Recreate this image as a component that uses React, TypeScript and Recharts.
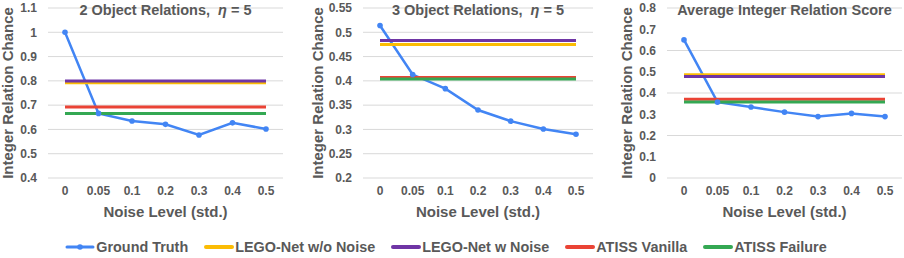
import { CartesianGrid, Line, LineChart, XAxis, YAxis } from 'recharts'

const FONT = "'Liberation Sans', Arial, sans-serif"
const TEXT_COLOR = '#595959'
const GRID_COLOR = '#d9d9d9'

const GT_COLOR = '#4285f4'
const NO_NOISE_COLOR = '#fbbc04'
const W_NOISE_COLOR = '#6f35a5'
const VANILLA_COLOR = '#ea4335'
const FAILURE_COLOR = '#34a853'

const noiseLevels = ['0', '0.05', '0.1', '0.2', '0.3', '0.4', '0.5']

// 2 object relations
const gt2 = [1.0, 0.666, 0.635, 0.621, 0.577, 0.627, 0.602]
const noNoise2 = [0.792, 0.792, 0.792, 0.792, 0.792, 0.792, 0.792]
const wNoise2 = [0.799, 0.799, 0.799, 0.799, 0.799, 0.799, 0.799]
const vanilla2 = [0.692, 0.692, 0.692, 0.692, 0.692, 0.692, 0.692]
const failure2 = [0.666, 0.666, 0.666, 0.666, 0.666, 0.666, 0.666]
const ticks2 = [0.4, 0.5, 0.6, 0.7, 0.8, 0.9, 1, 1.1]

// 3 object relations
const gt3 = [0.514, 0.413, 0.384, 0.34, 0.317, 0.301, 0.29]
const noNoise3 = [0.475, 0.475, 0.475, 0.475, 0.475, 0.475, 0.475]
const wNoise3 = [0.483, 0.483, 0.483, 0.483, 0.483, 0.483, 0.483]
const vanilla3 = [0.407, 0.407, 0.407, 0.407, 0.407, 0.407, 0.407]
const failure3 = [0.404, 0.404, 0.404, 0.404, 0.404, 0.404, 0.404]
const ticks3 = [0.2, 0.25, 0.3, 0.35, 0.4, 0.45, 0.5, 0.55]

// average
const gtAvg = [0.65, 0.357, 0.334, 0.31, 0.289, 0.304, 0.289]
const noNoiseAvg = [0.486, 0.486, 0.486, 0.486, 0.486, 0.486, 0.486]
const wNoiseAvg = [0.478, 0.478, 0.478, 0.478, 0.478, 0.478, 0.478]
const vanillaAvg = [0.371, 0.371, 0.371, 0.371, 0.371, 0.371, 0.371]
const failureAvg = [0.358, 0.358, 0.358, 0.358, 0.358, 0.358, 0.358]
const ticksAvg = [0, 0.1, 0.2, 0.3, 0.4, 0.5, 0.6, 0.7, 0.8]

const legendItems = [
  { name: 'Ground Truth', color: GT_COLOR, dot: true },
  { name: 'LEGO-Net w/o Noise', color: NO_NOISE_COLOR, dot: false },
  { name: 'LEGO-Net w Noise', color: W_NOISE_COLOR, dot: false },
  { name: 'ATISS Vanilla', color: VANILLA_COLOR, dot: false },
  { name: 'ATISS Failure', color: FAILURE_COLOR, dot: false },
]

const TICK_STYLE = { fill: TEXT_COLOR, fontSize: 12, fontWeight: 700, fontFamily: FONT }
const TITLE_STYLE = { fill: TEXT_COLOR, fontSize: 15, fontWeight: 700, fontFamily: FONT }

function buildRows(gt: number[], noNoise: number[], wNoise: number[], vanilla: number[], failure: number[]) {
  return noiseLevels.map((noise, i) => ({
    noise,
    gt: gt[i],
    noNoise: noNoise[i],
    wNoise: wNoise[i],
    vanilla: vanilla[i],
    failure: failure[i],
  }))
}

interface PanelProps {
  left: number
  width: number
  axisWidth: number
  rightMargin: number
  yTitleX: number
  ticks: number[]
  title: React.ReactNode
  rows: ReturnType<typeof buildRows>
}

function Panel({ left, width, axisWidth, rightMargin, yTitleX, ticks, title, rows }: PanelProps) {
  const plotWidth = width - axisWidth - rightMargin
  return (
    <div style={{ position: 'absolute', left, top: 0, width, height: 225 }}>
      <LineChart width={width} height={225} data={rows} margin={{ top: 8, right: rightMargin, bottom: 0, left: 0 }}>
        <CartesianGrid vertical={false} stroke={GRID_COLOR} />
        <XAxis
          dataKey="noise"
          height={47}
          axisLine={false}
          tickLine={false}
          tickSize={0}
          tickMargin={8}
          interval={0}
          padding={{ left: 17, right: 17 }}
          tick={TICK_STYLE}
          label={{ value: 'Noise Level (std.)', position: 'insideBottom', offset: 8, style: TITLE_STYLE }}
        />
        <YAxis
          type="number"
          width={axisWidth}
          domain={[ticks[0], ticks[ticks.length - 1]]}
          ticks={ticks}
          axisLine={false}
          tickLine={false}
          tickSize={0}
          tickMargin={11}
          tick={TICK_STYLE}
          tickFormatter={(v: number) => String(Number(v.toFixed(2)))}
          label={{
            value: 'Integer Relation Chance',
            angle: -90,
            position: 'insideLeft',
            offset: yTitleX,
            style: { ...TITLE_STYLE, textAnchor: 'middle' },
          }}
        />
        <Line
          dataKey="gt"
          stroke={GT_COLOR}
          strokeWidth={2.5}
          dot={{ r: 2.8, fill: GT_COLOR, stroke: GT_COLOR, strokeWidth: 0 }}
          activeDot={false}
          isAnimationActive={false}
        />
        <Line dataKey="noNoise" stroke={NO_NOISE_COLOR} strokeWidth={3} dot={false} activeDot={false} isAnimationActive={false} />
        <Line dataKey="wNoise" stroke={W_NOISE_COLOR} strokeWidth={3} dot={false} activeDot={false} isAnimationActive={false} />
        <Line dataKey="vanilla" stroke={VANILLA_COLOR} strokeWidth={3} dot={false} activeDot={false} isAnimationActive={false} />
        <Line dataKey="failure" stroke={FAILURE_COLOR} strokeWidth={3} dot={false} activeDot={false} isAnimationActive={false} />
      </LineChart>
      <div
        style={{
          position: 'absolute',
          left: axisWidth,
          top: 2,
          width: plotWidth,
          textAlign: 'center',
          fontFamily: FONT,
          fontWeight: 700,
          fontSize: 14.5,
          lineHeight: '16px',
          color: TEXT_COLOR,
          whiteSpace: 'nowrap',
        }}
      >
        {title}
      </div>
    </div>
  )
}

function Legend() {
  return (
    <div
      style={{
        position: 'absolute',
        left: 0,
        top: 239,
        width: 892,
        display: 'flex',
        justifyContent: 'center',
        gap: 16,
        fontFamily: FONT,
        fontWeight: 700,
        fontSize: 14.4,
        lineHeight: '16px',
        color: TEXT_COLOR,
      }}
    >
      {legendItems.map((item) => (
        <div key={item.name} style={{ display: 'flex', alignItems: 'center', gap: 1 }}>
          <svg width={30} height={10}>
            <line x1={2} y1={5} x2={28} y2={5} stroke={item.color} strokeWidth={item.dot ? 3 : 4} strokeLinecap="round" />
            {item.dot && <circle cx={15} cy={5} r={2.8} fill={item.color} />}
          </svg>
          <span>{item.name}</span>
        </div>
      ))}
    </div>
  )
}

export default function App() {
  return (
    <div style={{ position: 'absolute', left: 0, top: 0, width: 904, height: 258, background: '#fff' }}>
      <Panel
        left={0}
        width={300}
        axisWidth={48}
        rightMargin={17}
        yTitleX={8}
        ticks={ticks2}
        rows={buildRows(gt2, noNoise2, wNoise2, vanilla2, failure2)}
        title={
          <>
            2 Object Relations,&nbsp; <i>η</i> = 5
          </>
        }
      />
      <Panel
        left={300}
        width={300}
        axisWidth={63}
        rightMargin={7}
        yTitleX={18}
        ticks={ticks3}
        rows={buildRows(gt3, noNoise3, wNoise3, vanilla3, failure3)}
        title={
          <>
            3 Object Relations,&nbsp; <i>η</i> = 5
          </>
        }
      />
      <Panel
        left={600}
        width={304}
        axisWidth={67}
        rightMargin={2}
        yTitleX={27}
        ticks={ticksAvg}
        rows={buildRows(gtAvg, noNoiseAvg, wNoiseAvg, vanillaAvg, failureAvg)}
        title="Average Integer Relation Score"
      />
      <Legend />
    </div>
  )
}
